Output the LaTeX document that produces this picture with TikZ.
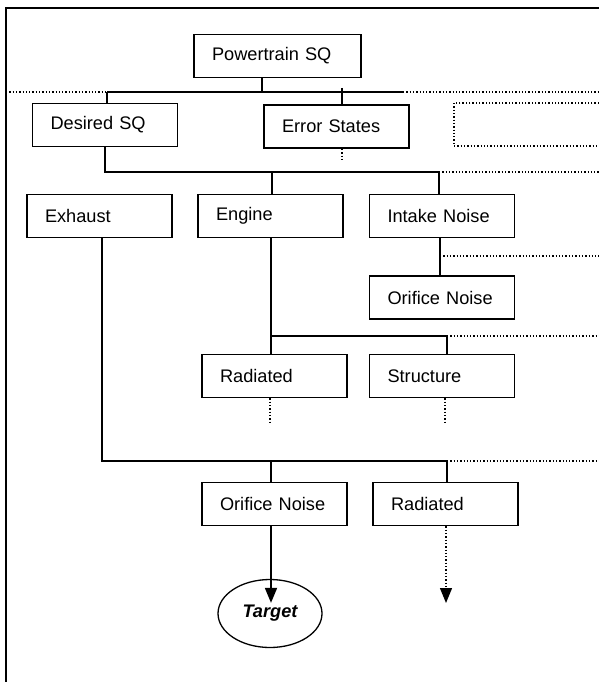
\documentclass[tikz,border=0pt]{standalone}
\usepackage{fontspec}
\setmainfont{Liberation Sans}
\usetikzlibrary{arrows.meta,shapes.geometric}
\begin{document}
\begin{tikzpicture}[x=1pt,y=-1pt,
    box/.style={draw,line width=1.8pt,minimum height=43pt,inner xsep=18pt,text width=109pt,align=left,font=\fontsize{18.2}{22}\selectfont},
    wire/.style={line width=1.8pt},
    dots/.style={dotted,line width=1.3pt},
    tip/.style={-{Triangle[width=12pt,length=15pt]}}]
    \useasboundingbox (0,0) rectangle (599,682);
    \draw[wire] (6,682) -- (6,8) -- (599,8);
    \node[box,text width=131pt] (power) at (277.5,56) {Powertrain SQ};
    \node[box] (desired) at (105,125) {Desired SQ};
    \node[box] (error) at (336.5,126.5) {Error States};
    \draw[dots] (599,103) -- (454,103) -- (454,146) -- (599,146);
    \node[box] (exhaust) at (99.5,216) {Exhaust};
    \node[box] (engine) at (270.5,216) {Engine};
    \node[box] (intake) at (442,216) {Intake Noise};
    \node[box] (orifice) at (442,297.5) {Orifice~Noise};
    \node[box] (radiated) at (274.5,376) {Radiated};
    \node[box] (structure) at (442,376) {Structure};
    \node[box] (exorifice) at (274.5,504) {Orifice~Noise};
    \node[box] (exradiated) at (445.5,504) {Radiated};
    \node[draw,ellipse,line width=1.3pt,minimum width=104pt,minimum height=68pt,inner sep=0pt,font=\fontsize{18.2}{22}\selectfont\bfseries\itshape] (target) at (270,613.5) {Target};
    \coordinate (j1) at (262,92);
    \coordinate (j1l) at (107,92);
    \coordinate (j1e) at (342,92);
    \coordinate (j1r) at (403,92);
    \coordinate (j2) at (105,172);
    \coordinate (j3) at (447,336);
    \coordinate (j4) at (102,461);
    \coordinate (j5) at (440,256);
    \coordinate (radend) at (446,603);
    \draw[wire] (power.south -| j1) -- (j1);
    \draw[wire] (j1l) -- (j1r);
    \draw[dots] (6,92) -- (j1l);
    \draw[dots] (j1r) -- (599,92);
    \draw[wire] (j1l) -- (desired.north -| j1l);
    \draw[wire] ([yshift=4pt]j1e) -- (error.north -| j1e);
    \draw[dots] (error.south -| j1e) -- ++(0,12);
    \draw[wire] (desired.south) -- (j2) -| ([xshift=-3pt]intake.north);
    \draw[dots] ([xshift=-3pt]intake.north |- j2) -- (599,172);
    \draw[wire] ([xshift=1.5pt]engine.north |- j2) -- ([xshift=1.5pt]engine.north);
    \draw[wire] ([xshift=-2pt]intake.south) -- ([xshift=-2pt]orifice.north);
    \draw[dots] (j5) -- (599,256);
    \draw[wire] ([xshift=0.5pt]engine.south) -- ([xshift=0.5pt]radiated.north -| engine.south);
    \draw[wire] ([xshift=0.5pt]engine.south |- j3) -- (j3) -- (structure.north -| j3);
    \draw[dots] (j3) -- (599,336);
    \draw[dots] ([xshift=-4.5pt]radiated.south) -- ++(0,24);
    \draw[dots] ([xshift=3pt]structure.south) -- ++(0,24);
    \draw[wire] (exhaust.south -| j4) -- (j4) -| (exradiated.north -| j3);
    \draw[dots] (j4 -| j3) -- (599,461);
    \draw[wire] ([xshift=-3.5pt]exorifice.north |- j4) -- ([xshift=-3.5pt]exorifice.north);
    \draw[wire,tip] ([xshift=-3.5pt]exorifice.south) -- ([xshift=1pt,yshift=-24pt]target.north);
    \draw[dots,tip] (exradiated.south -| radend) -- (radend);
\end{tikzpicture}
\end{document}
